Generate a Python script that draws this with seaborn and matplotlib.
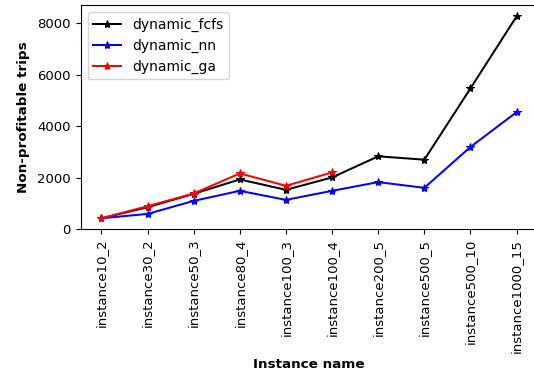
import matplotlib
matplotlib.use("Agg")
import matplotlib.pyplot as plt
import seaborn as sns
import pandas as pd

instances = ["instance10_2", "instance30_2", "instance50_3", "instance80_4", "instance100_3",
             "instance100_4", "instance200_5", "instance500_5", "instance500_10", "instance1000_15"]
fcfs = [417, 847, 1369, 1930, 1525, 2008, 2829, 2699, 5476, 8279]
nn = [417, 587, 1095, 1486, 1134, 1486, 1825, 1603, 3194, 4550]
ga = [417, 887, 1382, 2164, 1682, 2203]

plt.rcParams["font.family"] = ["DejaVu Sans"]
plt.rcParams["font.size"] = 9.5

fig = plt.figure(figsize=(5.34, 3.78), dpi=100)
# axes runs slightly past the right edge, like the cropped original
ax = fig.add_axes([80.6 / 534, 1 - 229 / 378, (537.4 - 80.6) / 534, (229 - 5) / 378])

series = [("dynamic_fcfs", fcfs, "black"), ("dynamic_nn", nn, "blue"), ("dynamic_ga", ga, "red")]
for name, vals, col in series:
    d = pd.DataFrame({"x": list(range(len(vals))), "y": vals})
    sns.lineplot(data=d, x="x", y="y", ax=ax, color=col, marker="*", markersize=6,
                 markeredgecolor=col, linewidth=1.45, label=name)

ax.set_ylim(0, 8720)
ax.set_xticks(range(len(instances)))
ax.set_xticklabels(instances, rotation=90)
ax.set_xlabel("Instance name", fontweight="bold", fontsize=9.7)
ax.set_ylabel("Non-profitable trips", fontweight="bold", fontsize=9.7, labelpad=5)
ax.legend(loc="upper left", fontsize=10)
plt.savefig("out.png")
plt.close()
